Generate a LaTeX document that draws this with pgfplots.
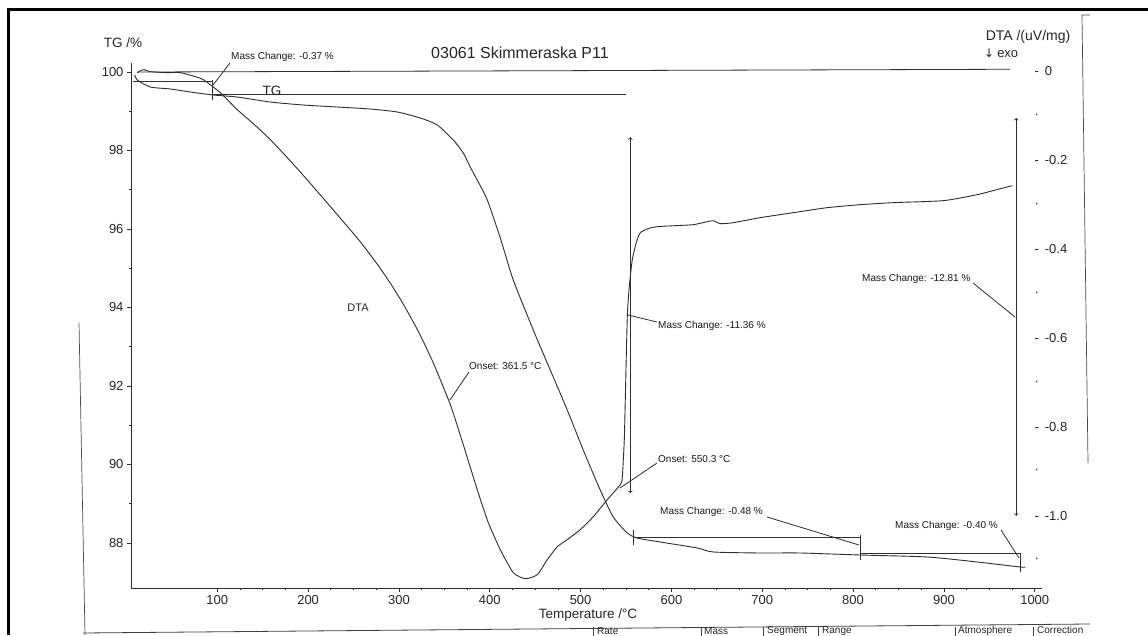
\documentclass[border=0pt]{standalone}
\usepackage{fontspec}
\setmainfont{Liberation Sans}
\newfontfamily\symfont{DejaVu Sans}
\usepackage{pgfplots}
\pgfplotsset{compat=1.18}
\definecolor{ink}{gray}{0.18}
\pgfplotstableread{
T D
11.9 -0.0027
18.5 0.0040
26.2 -0.0004
42.8 -0.0027
59.3 -0.0027
75.8 -0.0117
84.6 -0.0184
103.3 -0.0477
122.0 -0.0859
139.6 -0.1173
158.4 -0.1533
177.1 -0.1938
196.9 -0.2387
218.9 -0.2904
238.7 -0.3376
257.4 -0.3826
277.3 -0.4365
291.6 -0.4794
304.8 -0.5230
321.3 -0.5840
337.8 -0.6550
356.5 -0.7485
370.8 -0.8386
386.2 -0.9400
398.4 -1.0142
411.6 -1.0749
425.9 -1.1266
439.1 -1.1401
452.3 -1.1311
463.3 -1.0974
474.3 -1.0682
485.3 -1.0524
499.6 -1.0300
514.0 -1.0007
529.4 -0.9625
543.7 -0.9288
545.9 -0.9130
548.1 -0.8276
549.2 -0.7377
551.4 -0.5511
553.6 -0.4837
556.9 -0.4230
561.3 -0.3848
565.7 -0.3623
574.5 -0.3533
584.4 -0.3488
604.2 -0.3466
624.1 -0.3444
639.5 -0.3376
646.1 -0.3354
653.8 -0.3421
668.1 -0.3399
697.8 -0.3286
741.9 -0.3151
771.6 -0.3061
807.9 -0.2994
844.2 -0.2949
899.3 -0.2904
936.7 -0.2769
975.3 -0.2565
}\dtadata
\pgfplotstableread{
T TG
9.0 99.924
11.9 99.796
26.2 99.618
48.3 99.567
70.3 99.490
95.6 99.414
122.0 99.363
158.4 99.235
194.7 99.159
232.1 99.108
268.4 99.057
298.2 98.981
323.5 98.828
342.2 98.650
359.8 98.267
370.8 97.936
378.5 97.579
386.2 97.248
397.3 96.738
411.6 95.770
425.9 94.699
447.9 93.425
466.6 92.406
485.3 91.386
502.9 90.367
521.6 89.348
536.0 88.660
551.4 88.252
562.2 88.124
587.7 88.022
628.5 87.869
646.1 87.768
697.8 87.742
741.9 87.742
807.9 87.691
881.7 87.640
936.7 87.513
984.1 87.385
989.6 87.385
}\tgdata
\begin{document}
\begin{tikzpicture}[x=1pt,y=1pt]
\useasboundingbox (0,0) rectangle (1148,635);
\clip (0,0) rectangle (1148,635);
\fill[white] (0,0) rectangle (1148,635);

% TG axis
\begin{axis}[
  at={(131pt,47pt)}, anchor=south west, scale only axis,
  width=911pt, height=525pt,
  xmin=5, xmax=1008, ymin=86.85, ymax=100.23,
  axis x line*=bottom, axis y line*=left,
  axis line style={ink, line width=0.8pt, -},
  xtick={100,200,...,1000}, minor x tick num=3,
  ytick={88,90,...,100}, minor y tick num=1,
  tick align=outside, major tick length=4pt, minor tick length=2pt,
  every tick/.style={ink, line width=0.7pt},
  scaled ticks=false,
  /pgf/number format/assume math mode=true,
  /pgf/number format/1000 sep={},
  ticklabel style={font=\fontsize{13}{15}\selectfont, text=black!85},
  xticklabel style={yshift=0.5pt},
  clip=false,
]
\addplot[ink, line width=0.9pt, smooth, tension=0.4] table[x=T, y=TG] {\tgdata};
% step lines of mass change evaluation
\addplot[ink, line width=0.8pt] coordinates {(12,100.0) (973,100.07)};
\addplot[ink, line width=0.8pt] coordinates {(7.5,99.771) (94.5,99.771)};
\addplot[ink, line width=0.8pt] coordinates {(94.5,99.80) (94.5,99.286)};
\addplot[ink, line width=0.8pt] coordinates {(94.5,99.44) (550,99.44)};
\addplot[ink, line width=0.8pt] coordinates {(558,88.15) (808,88.15)};
\addplot[ink, line width=0.8pt] coordinates {(558,88.33) (558,87.95)};
\addplot[ink, line width=0.8pt] coordinates {(808,88.20) (808,87.56)};
\addplot[ink, line width=0.8pt] coordinates {(808,87.74) (984,87.74)};
\addplot[ink, line width=0.8pt] coordinates {(984,87.74) (984,87.26)};
\addplot[ink, line width=0.8pt, <->] coordinates {(554.7,98.34) (554.7,89.27)};
\addplot[ink, line width=0.8pt, <->] coordinates {(979.6,98.83) (979.6,88.69)};
\end{axis}

% DTA axis
\begin{axis}[
  at={(131pt,47pt)}, anchor=south west, scale only axis,
  width=911pt, height=525pt,
  xmin=5, xmax=1008, ymin=-1.161, ymax=0.019,
  axis x line=none, axis y line*=right,
  y axis line style={draw=none},
  ytick={-1.1,-1,-0.9,-0.8,-0.7,-0.6,-0.5,-0.4,-0.3,-0.2,-0.1,0},
  yticklabels={{·},{-\hspace{6pt}-1.0},{·},{-\hspace{6pt}-0.8},{·},{-\hspace{6pt}-0.6},{·},{-\hspace{6pt}-0.4},{·},{-\hspace{6pt}-0.2},{·},{-\hspace{6pt}0}},
  major tick length=0pt, ytick style={draw=none},
  yticklabel style={anchor=west, xshift=-11pt, font=\fontsize{13}{15}\selectfont, text=black!85},
  clip=false,
]
\addplot[ink, line width=0.9pt, smooth, tension=0.35] table[x=T, y=D] {\dtadata};
\end{axis}

\begin{scope}[shift={(0pt,635pt)}, x=1pt, y=-1pt]
  % scan frame
  \draw[black, line width=3pt] (7,10) -- (1148,10);
  \draw[black, line width=3pt] (8,8.5) -- (8,635);
  \draw[black!70, line width=0.7pt] (1090,15) -- (1082,15) -- (1088,463);
  \draw[black!70, line width=0.7pt] (79,323) -- (85,635);
  \draw[black!75, line width=0.8pt] (83,633) -- (1090,624);
  \foreach \xx in {593,701,763,818,955,1033} \draw[black!75, line width=0.8pt] (\xx,627) -- (\xx,636);
  \begin{scope}[every node/.style={font=\fontsize{10}{12}\selectfont, text=black!85, anchor=west, inner sep=0pt}]
    \node at (597,631) {Rate};
    \node at (704,631) {Mass};
    \node at (767,631) {Segment};
    \node at (822,631) {Range};
    \node at (958,630.5) {Atmosphere};
    \node at (1037,630) {Correction};
  \end{scope}
  % titles and axis labels
  \node[font=\fontsize{16}{19}\selectfont, text=black!85] at (520,53) {03061 Skimmeraska P11};
  \node[font=\fontsize{13.5}{16}\selectfont, text=black!85] at (123,43) {TG /\%};
  \node[font=\fontsize{14}{16}\selectfont, text=black!85] at (1028,37) {DTA /(uV/mg)};
  \node[font=\fontsize{13}{16}\selectfont, text=black!85, anchor=west, inner sep=0pt] at (984,53) {{\symfont\fontsize{12}{14}\selectfont ↓}\hspace{3pt}exo};
  \node[font=\fontsize{13.5}{16}\selectfont, text=black!85] at (588,615) {Temperature /°C};
  \node[font=\fontsize{13.5}{16}\selectfont, text=black!85] at (272,91) {TG};
  \node[font=\fontsize{11}{13}\selectfont, text=black!85] at (358,308) {DTA};
  % annotations
  \begin{scope}[every node/.style={font=\fontsize{10}{12}\selectfont, text=black!90, anchor=west, inner sep=0pt}]
    \node at (231,57) {Mass Change: -0.37 \%};
    \node at (469,366) {Onset: 361.5 °C};
    \node at (658,326) {Mass Change: -11.36 \%};
    \node at (658,459) {Onset: 550.3 °C};
    \node at (660,512) {Mass Change: -0.48 \%};
    \node at (862,279) {Mass Change: -12.81 \%};
    \node at (895,526) {Mass Change: -0.40 \%};
  \end{scope}
  \begin{scope}[ink, line width=0.8pt]
    \draw (230,63) -- (213,85);
    \draw (469,372) -- (450,400);
    \draw (628,315) -- (657,322);
    \draw (657,463) -- (620,488);
    \draw (767,517) -- (859,545);
    \draw (973,283) -- (1015,317);
    \draw (1001,530) -- (1019,558);
  \end{scope}
\end{scope}
\end{tikzpicture}
\end{document}
